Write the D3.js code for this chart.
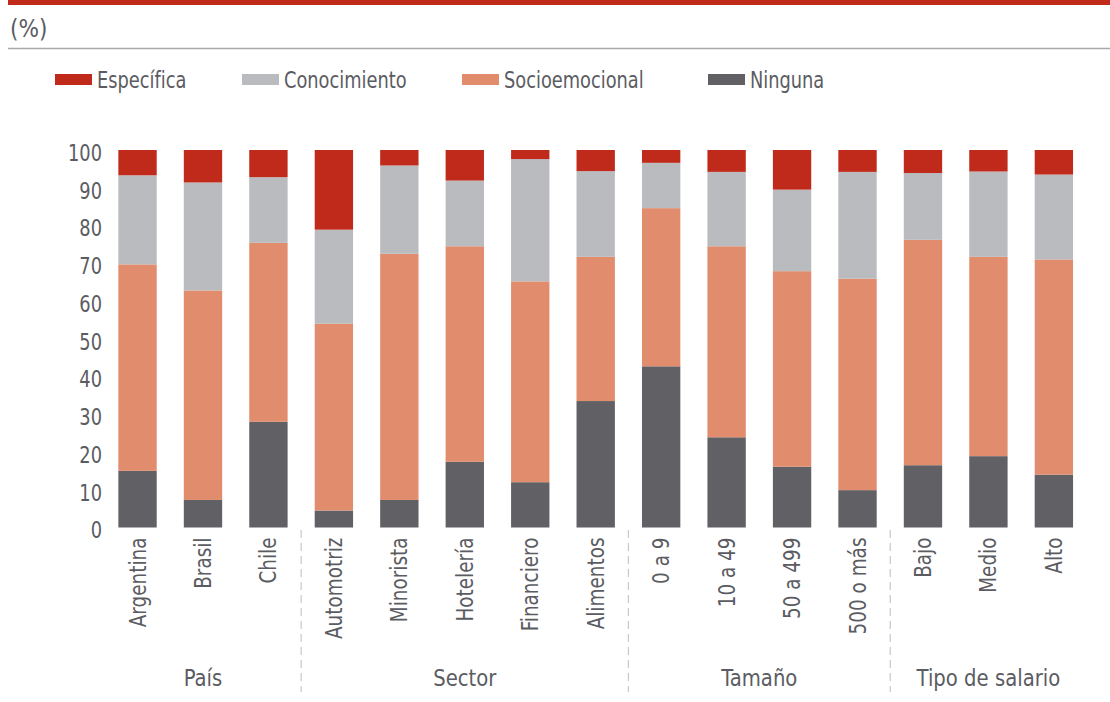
<!DOCTYPE html>
<html lang="es">
<head>
<meta charset="utf-8">
<title>Competencias por grupo</title>
<script src="https://cdn.jsdelivr.net/npm/d3@7/dist/d3.min.js"></script>
<style>
  body { margin: 0; background: #fff; }
  svg text { font-family: "Liberation Sans Narrow", "DejaVu Sans Condensed", "Roboto Condensed", sans-serif; fill: #5b5c62; }
</style>
</head>
<body>
<script>
// categories and groups
var categories = ["Argentina", "Brasil", "Chile", "Automotriz", "Minorista", "Hotelería", "Financiero", "Alimentos",
                  "0 a 9", "10 a 49", "50 a 499", "500 o más", "Bajo", "Medio", "Alto"];
var groups = [
  { name: "País", first: "Argentina", last: "Chile" },
  { name: "Sector", first: "Automotriz", last: "Alimentos" },
  { name: "Tamaño", first: "0 a 9", last: "500 o más" },
  { name: "Tipo de salario", first: "Bajo", last: "Alto" }
];
var seriesNames = ["Ninguna", "Socioemocional", "Conocimiento", "Específica"];
var legendOrder = ["Específica", "Conocimiento", "Socioemocional", "Ninguna"];
var colors = { "Específica": "#c02a1b", "Conocimiento": "#b9bbbe", "Socioemocional": "#e08c6d", "Ninguna": "#616165" };

// series values (%)
var ninguna        = [15.0,  7.3, 28.0,  4.5,  7.3, 17.4, 12.0, 33.5, 42.7, 23.9, 16.1,  9.9, 16.5, 18.9, 14.0];
var socioemocional = [54.7, 55.5, 47.4, 49.5, 65.2, 57.1, 53.2, 38.2, 41.9, 50.6, 51.8, 56.0, 59.7, 52.8, 57.0];
var conocimiento   = [23.6, 28.6, 17.4, 24.9, 23.4, 17.4, 32.4, 22.7, 12.0, 19.7, 21.6, 28.3, 17.7, 22.6, 22.5];
var especifica     = [ 6.7,  8.6,  7.2, 21.1,  4.1,  8.1,  2.4,  5.6,  3.4,  5.8, 10.5,  5.8,  6.1,  5.7,  6.5];
var yTicks = [0, 10, 20, 30, 40, 50, 60, 70, 80, 90, 100];

var W = 1110, H = 702;
var narrow = 0.86; // squeeze text to look like the condensed original
var svg = d3.select("body").append("svg").attr("width", W).attr("height", H);

// header: red band, unit label, grey rule
svg.append("rect").attr("x", 8).attr("y", 0).attr("width", W - 8).attr("height", 5).attr("fill", "#c02a1b");
svg.append("text").attr("transform", "translate(10,37)").attr("font-size", 24).text("(%)");
svg.append("line").attr("x1", 8).attr("x2", W).attr("y1", 48.5).attr("y2", 48.5)
   .attr("stroke", "#a7a9ac").attr("stroke-width", 1.5);

// legend
var legendX = { "Específica": 55, "Conocimiento": 242, "Socioemocional": 462, "Ninguna": 708 };
var lg = svg.append("g").selectAll("g").data(legendOrder).enter().append("g")
  .attr("transform", function(d) { return "translate(" + legendX[d] + ",74)"; });
lg.append("rect").attr("width", 37).attr("height", 11).attr("fill", function(d) { return colors[d]; });
lg.append("text").attr("transform", "translate(42,14) scale(" + narrow + ",1)").attr("font-size", 23)
  .text(function(d) { return d; });

// scales
var x = d3.scaleBand().domain(categories).range([104.8, 1086.6]).paddingInner(0.414).paddingOuter(0.207);
var y = d3.scaleLinear().domain([0, 100]).range([527.5, 150]);

// y axis labels only (no line)
var yAxis = d3.axisLeft(y).tickValues(yTicks).tickSize(0).tickPadding(0);
var ya = svg.append("g").attr("transform", "translate(102,3)").call(yAxis);
ya.select(".domain").remove();
ya.selectAll("text").attr("font-size", 23).style("font-family", null).attr("fill", "#5b5c62")
  .attr("transform", "scale(" + narrow + ",1)");

// stacked bars
var rows = categories.map(function(c, i) {
  return { cat: c, "Ninguna": ninguna[i], "Socioemocional": socioemocional[i], "Conocimiento": conocimiento[i], "Específica": especifica[i] };
});
var stack = d3.stack().keys(seriesNames);
var layers = stack(rows);
// last segment capped at 100 so the tops line up
svg.append("g").selectAll("g").data(layers).enter().append("g")
  .attr("fill", function(d) { return colors[d.key]; })
  .selectAll("rect").data(function(d) { return d; }).enter().append("rect")
  .attr("x", function(d) { return x(d.data.cat); })
  .attr("width", x.bandwidth())
  .attr("y", function(d) { return y(Math.min(d[1], 100)); })
  .attr("height", function(d) { return y(d[0]) - y(Math.min(d[1], 100)); });

// category labels, rotated
var xAxis = d3.axisBottom(x).tickSize(0).tickPadding(0);
var xa = svg.append("g").attr("transform", "translate(0,527.5)").call(xAxis);
xa.select(".domain").remove();
xa.selectAll("text")
  .attr("font-size", 23).style("font-family", null).attr("fill", "#5b5c62")
  .attr("text-anchor", "end")
  .attr("transform", "translate(0,10) rotate(-90) scale(0.89,1)")
  .attr("x", 0).attr("y", 0).attr("dy", "0.35em");

// group separators and names
var step = x.step();
var bounds = [];
groups.forEach(function(g, i) {
  if (i > 0) bounds.push(x(g.first) - (step - x.bandwidth()) / 2);
});
svg.append("g").selectAll("line").data(bounds).enter().append("line")
  .attr("x1", function(d) { return d; }).attr("x2", function(d) { return d; })
  .attr("y1", 530).attr("y2", 692)
  .attr("stroke", "#c7c8ca").attr("stroke-width", 1.2).attr("stroke-dasharray", "8,5");

svg.append("g").selectAll("text").data(groups).enter().append("text")
  .attr("x", function(g) { return (x(g.first) + x(g.last) + x.bandwidth()) / 2; })
  .attr("y", 686)
  .attr("text-anchor", "middle")
  .attr("font-size", 23)
  .attr("transform", function(g) {
    var cx = (x(g.first) + x(g.last) + x.bandwidth()) / 2;
    return "translate(" + cx + ",0) scale(0.95,1) translate(" + (-cx) + ",0)";
  })
  .text(function(g) { return g.name; });
</script>
</body>
</html>
